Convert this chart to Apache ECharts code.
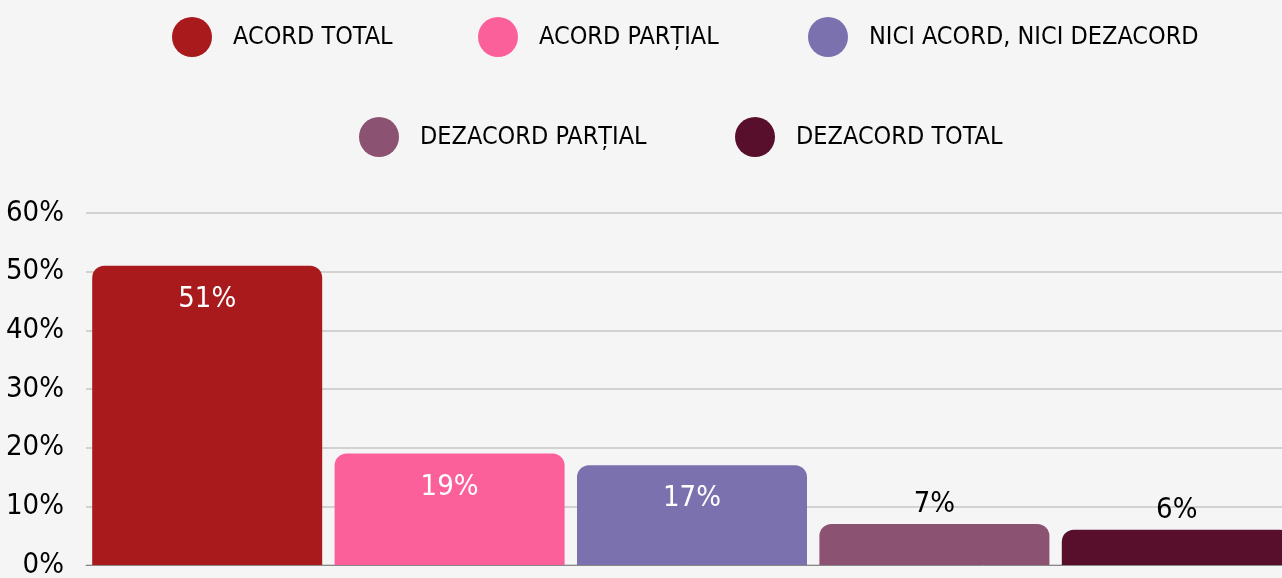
<!DOCTYPE html>
<html>
<head>
<meta charset="utf-8">
<script src="https://cdn.jsdelivr.net/npm/echarts@6/dist/echarts.min.js"></script>
<style>
html,body{margin:0;padding:0;background:#f5f5f5;}
#c{width:1282px;height:578px;}
</style>
</head>
<body>
<div id="c"></div>
<script>
const categories = ['ACORD TOTAL', 'ACORD PARȚIAL', 'NICI ACORD, NICI DEZACORD', 'DEZACORD PARȚIAL', 'DEZACORD TOTAL'];
const values = [51, 19, 17, 7, 6];
const yTicks = [0, 10, 20, 30, 40, 50, 60];

const colors = ['#a81a1c', '#fc609b', '#7b71ae', '#8b5271', '#580f2c'];
const FONT = "'DejaVu Sans Condensed', 'Liberation Sans Narrow', sans-serif";
const legendPos = [[172, 17], [478, 17], [808, 17], [359, 117], [735, 117]];

const series = categories.map((name, i) => ({
  name: name,
  type: 'bar',
  stack: 'all',
  barWidth: 230,
  itemStyle: { color: colors[i], borderRadius: [12, 12, 0, 0] },
  label: {
    show: true,
    position: values[i] > 10 ? 'insideTop' : 'top',
    distance: values[i] > 10 ? 19 : 5,
    color: values[i] > 10 ? '#ffffff' : '#000000',
    fontFamily: FONT,
    fontSize: 29,
    formatter: p => p.value + '%'
  },
  data: values.map((v, j) => (j === i ? v : '-'))
}));

const legends = categories.map((name, i) => ({
  data: [name],
  left: legendPos[i][0],
  top: legendPos[i][1],
  padding: 0,
  icon: 'circle',
  itemWidth: 40,
  itemHeight: 40,
  selectedMode: false,
  textStyle: { fontFamily: FONT, fontSize: 25, color: '#000', padding: [0, 0, 0, 16] }
}));

const chart = echarts.init(document.getElementById('c'), null, { renderer: 'canvas' });
chart.setOption({
  backgroundColor: '#f5f5f5',
  animation: false,
  legend: legends,
  grid: { left: 86, width: 1212, top: 213, height: 352, containLabel: false, outerBoundsMode: 'none' },
  xAxis: {
    type: 'category',
    data: categories,
    axisLine: { show: true, lineStyle: { color: '#888', width: 1 } },
    axisTick: { show: false },
    axisLabel: { show: false }
  },
  yAxis: {
    type: 'value',
    min: yTicks[0],
    max: yTicks[yTicks.length - 1],
    interval: 10,
    axisLine: { show: false },
    axisTick: { show: false },
    splitLine: { lineStyle: { color: '#c6c6c6', width: 1.5 } },
    axisLabel: {
      margin: 22,
      color: '#000',
      fontFamily: FONT,
      fontSize: 29,
      formatter: v => v + '%'
    }
  },
  series: series
});
</script>
</body>
</html>
